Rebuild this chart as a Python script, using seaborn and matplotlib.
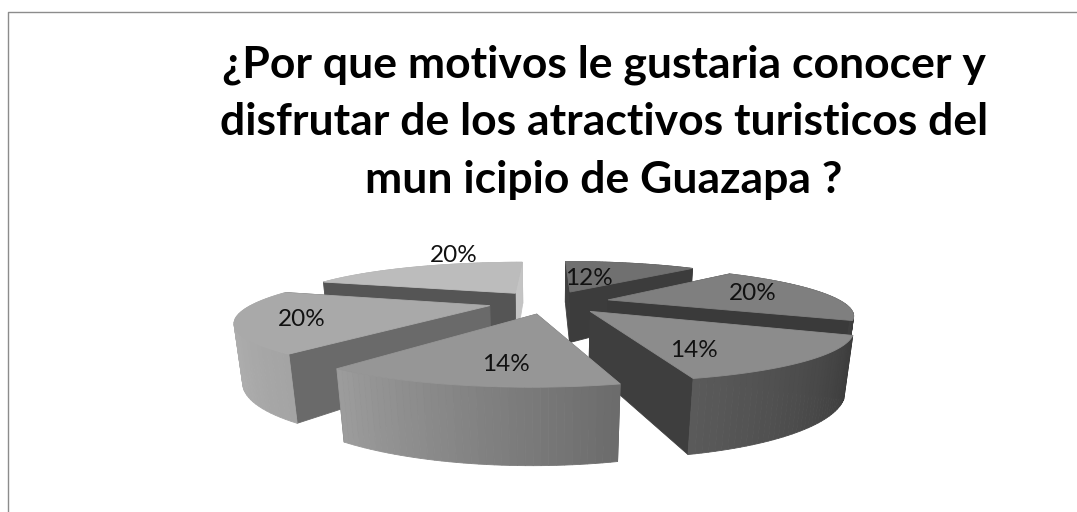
import numpy as np
import matplotlib
matplotlib.use("Agg")
import matplotlib.pyplot as plt
from matplotlib.patches import Polygon
import seaborn as sns

title = "¿Por que motivos le gustaria conocer y\ndisfrutar de los atractivos turisticos del\nmun icipio de Guazapa ?"
values = [12, 20, 14, 14, 20, 20]
labels = ["12%", "20%", "14%", "14%", "20%", "20%"]

# colours per slice
top_colors = ["#707070", "#7f7f7f", "#8c8c8c", "#969696", "#a9a9a9", "#bcbcbc"]
start_side = ["#404040", "#3a3a3a", "#3e3e3e", "#6a6a6a", "#6a6a6a", "#555555"]
end_side = ["#3c3c3c", "#3a3a3a", "#3e3e3e", "#6a6a6a", "#555555", "#c4c4c4"]
arc_from = ["#505050", "#505050", "#3c3c3c", "#6c6c6c", "#a4a4a4", "#b0b0b0"]
arc_to = ["#505050", "#3c3c3c", "#5a5a5a", "#9c9c9c", "#bcbcbc", "#b0b0b0"]

# where the percent sits on each slice (radius, angle clockwise from top)
label_r = [0.705, 0.949, 0.96, 1.015, 1.015, 1.675]
label_a = [16.9, 76.7, 150.3, 187.4, 250.0, 339.6]

# pie projection
CX, CY = 549, 302
A, B, H = 234, 44, 55
K, M = 0.28, 0.025
EXPLODE = 0.26


def project(x, y, z=0.0):
    x, y, z = np.asarray(x, float), np.asarray(y, float), np.asarray(z, float)
    w = 1 + K * y - M * z
    return CX + A * x / w, CY - (B * y + H * z) / w


def polar(r, deg):
    t = np.radians(deg)
    return r * np.sin(t), r * np.cos(t)


def face(ax, xs, ys, zs, color):
    px, py = project(xs, ys, zs)
    ax.add_patch(Polygon(np.column_stack([px, py]), closed=True, facecolor=color,
                         edgecolor=color, lw=0.6))


sns.set_theme(style="white")
plt.rcParams["font.family"] = ["Lato", "DejaVu Sans"]

fig, ax = plt.subplots(figsize=(10.77, 5.12), dpi=100)
ax.set_position([0, 0, 1, 1])
ax.set_xlim(0, 1077)
ax.set_ylim(512, 0)
ax.axis("off")
ax.plot([7.5, 7.5, 1077], [512, 11.5, 11.5], color="#8c8c8c", lw=1)

edges = np.concatenate([[0], np.cumsum(values)]) * 3.6
mids = (edges[:-1] + edges[1:]) / 2

order = np.argsort(-np.cos(np.radians(mids)))
for i in order:
    ex, ey = polar(EXPLODE, mids[i])
    a = np.linspace(edges[i], edges[i + 1], 40)
    ax_, ay_ = polar(1.0, a)
    ax_, ay_ = ax_ + ex, ay_ + ey
    grad = sns.blend_palette([arc_from[i], arc_to[i]], len(a) - 1)

    # side quads, far ones first
    quads = []
    for j in range(len(a) - 1):
        qx = [ax_[j], ax_[j + 1], ax_[j + 1], ax_[j]]
        qy = [ay_[j], ay_[j + 1], ay_[j + 1], ay_[j]]
        quads.append((np.mean(qy), qx, qy, grad[j]))
    quads.append((np.mean([ey, ay_[0]]), [ex, ax_[0], ax_[0], ex], [ey, ay_[0], ay_[0], ey], start_side[i]))
    quads.append((np.mean([ey, ay_[-1]]), [ex, ax_[-1], ax_[-1], ex], [ey, ay_[-1], ay_[-1], ey], end_side[i]))
    for _, qx, qy, c in sorted(quads, key=lambda q: -q[0]):
        face(ax, qx, qy, [0, 0, -1, -1], c)

    tx = np.concatenate([[ex], ax_])
    ty = np.concatenate([[ey], ay_])
    face(ax, tx, ty, np.zeros(len(tx)), top_colors[i])

for lab, r, d in zip(labels, label_r, label_a):
    lx, ly = polar(r, d)
    px, py = project(lx, ly)
    ax.text(px, py + 1, lab, ha="center", va="center", fontsize=17.5, color="#111111", zorder=20)

ax.text(604, 122, title, ha="center", va="center", fontsize=32, fontweight="bold",
        color="black", linespacing=1.53)

fig.savefig("out.png", dpi=100)
